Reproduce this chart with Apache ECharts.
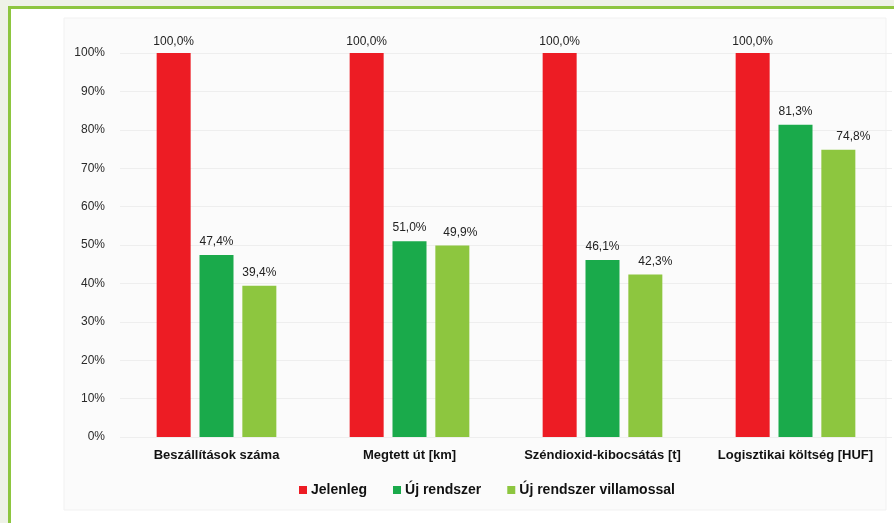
<!DOCTYPE html>
<html>
<head>
<meta charset="utf-8">
<script src="https://cdn.jsdelivr.net/npm/echarts@6/dist/echarts.min.js"></script>
<style>
  html, body { margin: 0; padding: 0; width: 894px; height: 523px; overflow: hidden; background: #eef2e7; }
  #frame { position: absolute; left: 8px; top: 6px; width: 900px; height: 530px; border-left: 3px solid #8dc63f; border-top: 3px solid #8dc63f; background: #ffffff; }
  #chart { position: absolute; left: 0; top: 0; width: 894px; height: 523px; }
</style>
</head>
<body>
<div id="frame"></div>
<div id="chart"></div>
<script>
const categories = ['Beszállítások száma', 'Megtett út [km]', 'Széndioxid-kibocsátás [t]', 'Logisztikai költség [HUF]'];
const seriesNames = ['Jelenleg', 'Új rendszer', 'Új rendszer villamossal'];
const jelenleg = [100.0, 100.0, 100.0, 100.0];
const ujRendszer = [47.4, 51.0, 46.1, 81.3];
const ujVillamossal = [39.4, 49.9, 42.3, 74.8];
const yTicks = [0, 10, 20, 30, 40, 50, 60, 70, 80, 90, 100];

const colors = ['#ed1c24', '#1aaa4b', '#8dc63f'];
const fmt = v => v.toFixed(1).replace('.', ',') + '%';
const FONT = 'Liberation Sans, Arial, sans-serif';

const chart = echarts.init(document.getElementById('chart'), null, { renderer: 'canvas' });
const labelStyle = { show: true, position: 'top', color: '#222', fontSize: 12, fontFamily: FONT, formatter: p => fmt(p.value) };

function mkSeries(name, values, color, dist, shifts) {
  return {
    name: name,
    type: 'bar',
    barWidth: 34,
    barGap: '26%',
    itemStyle: { color: color },
    label: Object.assign({}, labelStyle, { distance: dist }),
    data: values.map((v, i) => shifts && shifts[i] ? { value: v, label: { offset: [shifts[i], 0] } } : v)
  };
}

chart.setOption({
  backgroundColor: 'transparent',
  animation: false,
  graphic: [{
    type: 'rect', z: -10, silent: true,
    shape: { x: 64, y: 18, width: 822, height: 492 },
    style: { fill: '#fbfbfb', stroke: '#f1f1f1', lineWidth: 1 }
  }],
  legend: {
    data: seriesNames,
    left: 294, top: 478,
    itemWidth: 8, itemHeight: 8, itemGap: 26,
    icon: 'rect',
    textStyle: { color: '#111', fontWeight: 'bold', fontSize: 14, fontFamily: FONT, padding: [0, 0, 0, -1] }
  },
  grid: { left: 120, right: 2, top: 53, bottom: 86, containLabel: false },
  xAxis: {
    type: 'category',
    data: categories,
    axisLine: { show: false },
    axisTick: { show: false },
    axisLabel: { interval: 0, color: '#111', fontWeight: 'bold', fontSize: 13, fontFamily: FONT, margin: 12 }
  },
  yAxis: {
    type: 'value',
    min: yTicks[0], max: yTicks[yTicks.length - 1], interval: 10,
    axisLine: { show: false },
    axisTick: { show: false },
    splitLine: { show: true, lineStyle: { color: '#eeeeee', width: 1 } },
    axisLabel: { color: '#2a2a2a', fontSize: 12, fontFamily: FONT, margin: 15, formatter: v => v + '%' }
  },
  series: [
    mkSeries(seriesNames[0], jelenleg, colors[0], 5),
    mkSeries(seriesNames[1], ujRendszer, colors[1], 7),
    mkSeries(seriesNames[2], ujVillamossal, colors[2], 7, [0, 8, 10, 15])
  ]
});
</script>
</body>
</html>
